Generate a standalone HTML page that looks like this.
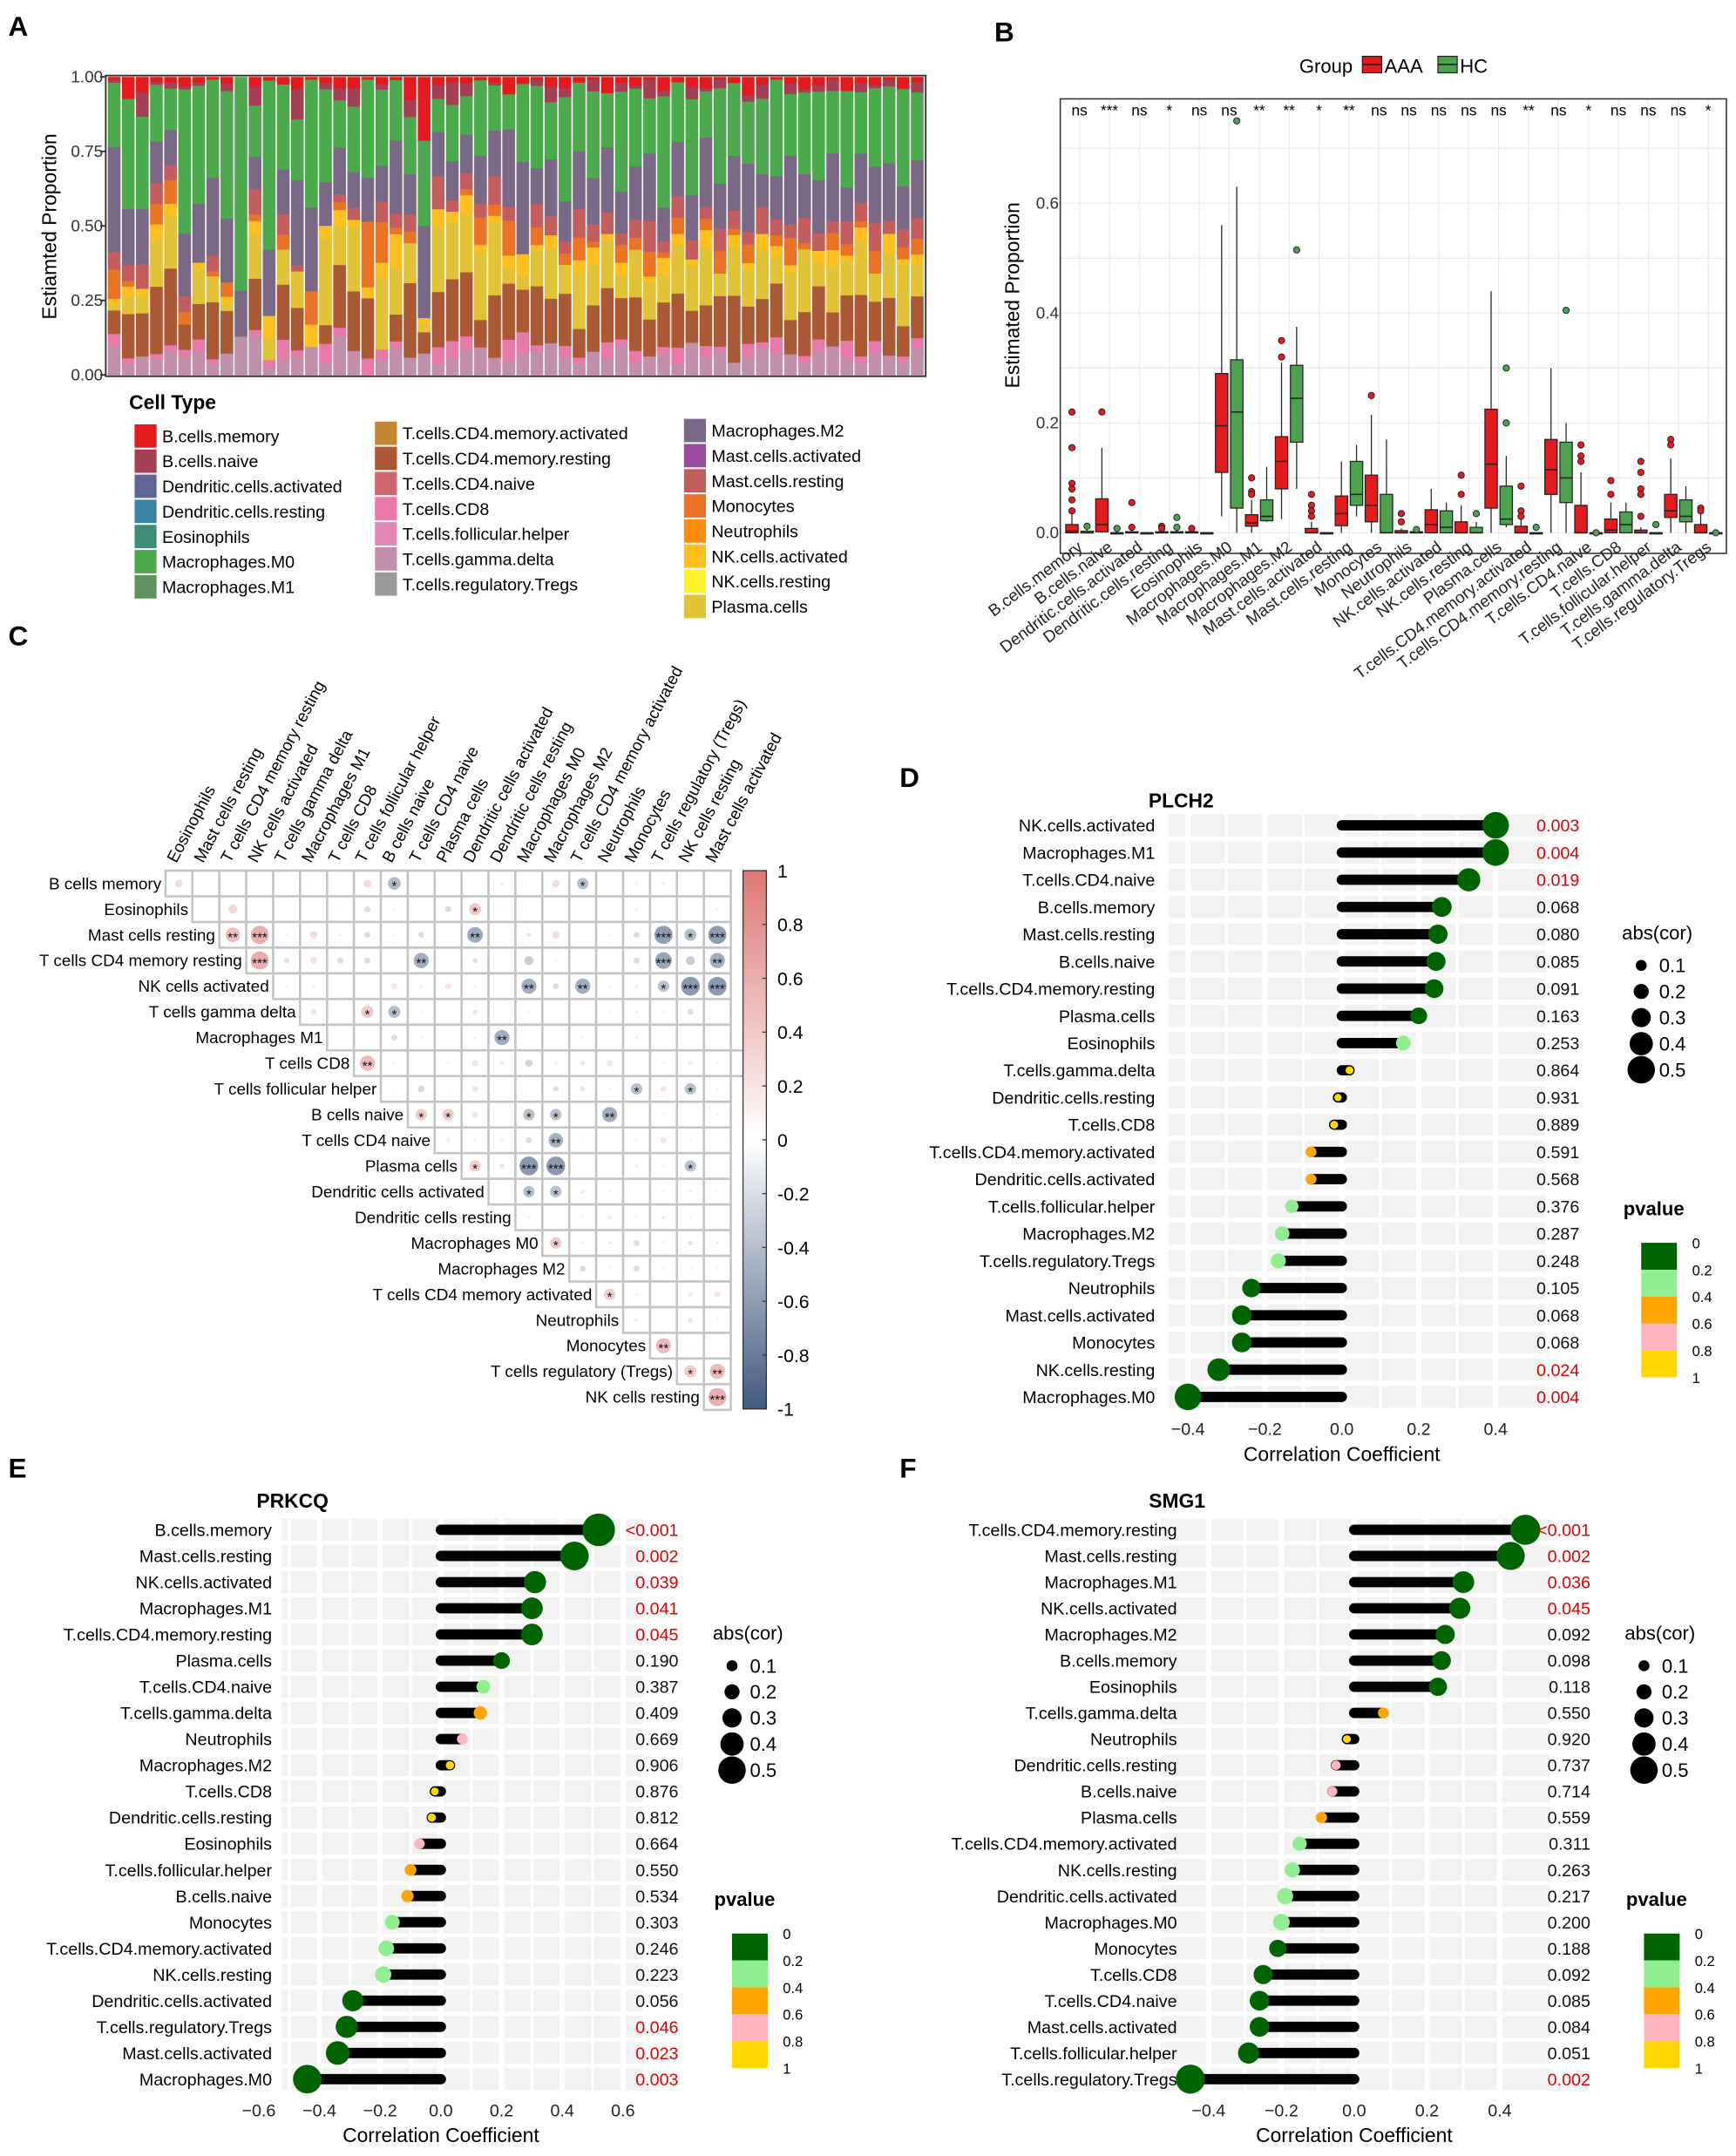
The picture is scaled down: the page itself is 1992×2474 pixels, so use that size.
<!DOCTYPE html>
<html><head><meta charset="utf-8"><style>
html,body{margin:0;padding:0;background:#fff;}
svg{display:block;font-family:"Liberation Sans",Arial,sans-serif;}
</style></head><body>
<svg id="fig" xmlns="http://www.w3.org/2000/svg" width="1992" height="2474" viewBox="0 0 1264 1570" preserveAspectRatio="none">
<rect x="0" y="0" width="1264" height="1570" fill="#fff"/>
<g font-weight="bold" font-size="20" fill="#000">
<text x="6" y="26">A</text>
<text x="724" y="30">B</text>
<text x="6" y="470">C</text>
<text x="655" y="573">D</text>
<text x="6" y="1076">E</text>
<text x="655" y="1076">F</text>
</g>
</svg>
<script>
// ===== Panel A data (percent-ish, normalized per bar) =====
const aBmem   =[1,8,5,2,2,3,2,1,2,0,3,1,3,4,1,2,3,4,1,3,1,8,18,3,2,2,1,2,5,2,1,3,4,2,1,6,2,3,1,5,2,3,4,1,2,6,3,1,2,4,3,1,5,2,3,1,4,2];
const aBnaive =[1,0,8,1,2,1,1,0,2,0,6,0,0,10,0,2,3,6,0,2,0,6,0,5,8,4,0,1,0,0,2,5,3,0,4,0,3,1,6,2,0,4,1,3,0,2,5,0,3,1,2,4,0,3,1,2,0,4];
const aM0     =[22,40,30,22,14,46,40,38,36,56,16,46,34,20,46,30,12,22,36,30,18,20,24,12,20,12,22,16,10,22,28,18,36,24,30,20,34,26,18,40,22,30,16,34,24,20,28,36,18,26,30,22,34,20,28,24,32,26];
const aM2     =[36,20,18,16,12,20,20,30,18,12,10,18,18,28,30,14,12,12,16,14,22,14,26,16,14,12,14,16,22,26,12,18,14,20,16,24,14,18,22,12,20,14,24,16,18,22,12,16,20,14,18,24,12,16,20,18,14,22];
const aMastRes=[6,6,8,8,5,5,0,6,0,0,8,0,8,2,0,0,2,4,0,8,4,6,0,12,4,5,4,10,4,0,8,6,4,10,6,8,4,6,10,4,8,6,4,8,6,4,10,6,4,8,6,4,8,6,10,4,6,8];
const aMono   =[10,2,0,8,8,4,0,2,4,0,2,0,6,0,12,0,2,0,24,16,2,4,0,0,0,2,8,4,10,0,6,0,4,8,2,0,6,4,8,2,6,0,4,8,2,6,0,4,8,2,0,6,4,2,8,0,4,6];
const aNKact  =[2,4,2,6,4,0,2,0,2,0,4,6,0,0,8,4,4,2,4,6,10,0,2,6,4,6,2,2,4,6,2,4,0,4,6,2,4,0,2,6,4,2,6,0,4,2,6,4,2,0,4,6,2,4,0,6,2,4];
const aPlasma =[2,6,6,18,18,0,12,10,2,0,14,6,14,12,0,28,10,22,0,28,14,14,2,24,20,18,20,26,4,4,12,16,10,20,14,18,8,16,12,10,18,14,20,8,16,12,18,10,14,20,8,16,12,18,10,14,20,12];
const aCD4res =[8,16,14,26,26,8,12,22,12,0,16,0,22,14,0,6,16,20,22,0,8,26,6,20,22,20,8,22,16,12,20,14,18,10,16,20,14,18,12,16,20,10,14,18,22,12,16,20,10,14,18,12,16,20,14,18,10,16];
const aCD8    =[4,2,0,2,2,2,4,2,0,0,2,2,8,2,0,6,2,0,6,4,2,0,0,6,6,4,0,0,6,6,2,0,4,2,0,6,2,4,0,2,6,0,4,2,0,4,2,6,0,2,4,0,6,2,4,0,2,4];
const aGD     =[10,4,6,6,8,6,8,4,6,10,12,2,6,6,10,4,10,8,0,6,8,6,6,4,6,8,8,6,4,6,8,10,6,4,8,6,10,4,6,8,4,10,6,8,4,6,10,8,6,4,8,10,6,4,8,6,4,10];
const aSeriesNames=['B.cells.memory','B.cells.naive','Macrophages.M0','Macrophages.M2','Mast.cells.resting','Monocytes','NK.cells.activated','Plasma.cells','T.cells.CD4.memory.resting','T.cells.CD8','T.cells.gamma.delta'];
const aSeriesData=[aBmem,aBnaive,aM0,aM2,aMastRes,aMono,aNKact,aPlasma,aCD4res,aCD8,aGD];
const aYTicks=['0.00','0.25','0.50','0.75','1.00'];
const legendNames=[['B.cells.memory','B.cells.naive','Dendritic.cells.activated','Dendritic.cells.resting','Eosinophils','Macrophages.M0','Macrophages.M1'],
['T.cells.CD4.memory.activated','T.cells.CD4.memory.resting','T.cells.CD4.naive','T.cells.CD8','T.cells.follicular.helper','T.cells.gamma.delta','T.cells.regulatory.Tregs'],
['Macrophages.M2','Mast.cells.activated','Mast.cells.resting','Monocytes','Neutrophils','NK.cells.activated','NK.cells.resting','Plasma.cells']];
const cellColor={'B.cells.memory':'#E41A1C','B.cells.naive':'#A53F56','Dendritic.cells.activated':'#5F6594','Dendritic.cells.resting':'#3A84A6','Eosinophils':'#3F8E78','Macrophages.M0':'#4BAA4C','Macrophages.M1':'#5F9161',
'T.cells.CD4.memory.activated':'#C28630','T.cells.CD4.memory.resting':'#AB5835','T.cells.CD4.naive':'#D0666E','T.cells.CD8':'#E979A9','T.cells.follicular.helper':'#E187B6','T.cells.gamma.delta':'#C18FAA','T.cells.regulatory.Tregs':'#999999',
'Macrophages.M2':'#7A6886','Mast.cells.activated':'#9C4A9E','Mast.cells.resting':'#C45D5D','Monocytes':'#EB7326','Neutrophils':'#FF8C0C','NK.cells.activated':'#FFC01F','NK.cells.resting':'#FFF22A','Plasma.cells':'#E2C237'};

// ===== Panel B data =====
const bCats=['B.cells.memory','B.cells.naive','Dendritic.cells.activated','Dendritic.cells.resting','Eosinophils','Macrophages.M0','Macrophages.M1','Macrophages.M2','Mast.cells.activated','Mast.cells.resting','Monocytes','Neutrophils','NK.cells.activated','NK.cells.resting','Plasma.cells','T.cells.CD4.memory.activated','T.cells.CD4.memory.resting','T.cells.CD4.naive','T.cells.CD8','T.cells.follicular.helper','T.cells.gamma.delta','T.cells.regulatory.Tregs'];
const bSig=['ns','***','ns','*','ns','ns','**','**','*','**','ns','ns','ns','ns','ns','**','ns','*','ns','ns','ns','*'];
// [lo,q1,med,q3,hi]
const bAAA=[[0,0,0.003,0.015,0.035],[0,0.002,0.015,0.062,0.155],[0,0,0,0.002,0.004],[0,0,0,0.002,0.004],[0,0,0,0.002,0.003],[0.03,0.11,0.195,0.29,0.56],[0,0.012,0.018,0.033,0.06],[0.025,0.08,0.13,0.175,0.31],[0,0,0,0.008,0.02],[0,0.013,0.035,0.067,0.13],[0,0.02,0.05,0.105,0.215],[0,0,0,0.004,0.008],[0,0,0.015,0.042,0.08],[0,0,0,0.02,0.05],[0,0.045,0.125,0.225,0.44],[0,0,0,0.012,0.03],[0,0.07,0.115,0.17,0.3],[0,0,0,0.05,0.11],[0,0,0.005,0.025,0.055],[0,0,0,0.005,0.01],[0,0.028,0.04,0.07,0.135],[0,0,0,0.015,0.035]];
const bHC=[[0,0,0,0.003,0.006],[0,0,0,0,0.002],[0,0,0,0,0],[0,0,0,0.002,0.004],[0,0,0,0,0],[0,0.045,0.22,0.315,0.63],[0.02,0.022,0.03,0.06,0.12],[0.08,0.165,0.245,0.305,0.375],[0,0,0,0,0],[0.03,0.05,0.07,0.13,0.16],[0,0,0,0.07,0.17],[0,0,0,0.002,0.004],[0,0,0.01,0.04,0.055],[0,0,0,0.01,0.02],[0.01,0.015,0.025,0.085,0.14],[0,0,0,0,0],[0,0.055,0.1,0.165,0.2],[0,0,0,0,0],[0,0,0.015,0.038,0.055],[0,0,0,0,0],[0,0.02,0.03,0.06,0.085],[0,0,0,0,0]];
const bAAAOut=[[0.22,0.155,0.09,0.08,0.06,0.04],[0.22],[0.055,0.01],[0.012,0.008],[0.008],[],[0.1,0.075,0.07],[0.35,0.32],[0.07,0.05,0.04,0.03],[],[0.25],[0.035,0.02],[],[0.105,0.07],[],[0.085,0.04,0.03],[],[0.16,0.14,0.13],[0.095,0.07],[0.13,0.11,0.08,0.07,0.03],[0.17,0.16],[0.045,0.04]];
const bHCOut=[[0.012],[0.008],[],[0.028,0.01],[],[0.75],[],[0.515],[],[],[],[0.006],[],[0.035],[0.3,0.2],[0.01],[0.405],[0],[],[0.015],[],[0]];
const bYTicks=[0,0.2,0.4,0.6];

// ===== Panel C data =====
const cRowVars=['B cells memory','Eosinophils','Mast cells resting','T cells CD4 memory resting','NK cells activated','T cells gamma delta','Macrophages M1','T cells CD8','T cells follicular helper','B cells naive','T cells CD4 naive','Plasma cells','Dendritic cells activated','Dendritic cells resting','Macrophages M0','Macrophages M2','T cells CD4 memory activated','Neutrophils','Monocytes','T cells regulatory (Tregs)','NK cells resting'];
const cColVars=['Eosinophils','Mast cells resting','T cells CD4 memory resting','NK cells activated','T cells gamma delta','Macrophages M1','T cells CD8','T cells follicular helper','B cells naive','T cells CD4 naive','Plasma cells','Dendritic cells activated','Dendritic cells resting','Macrophages M0','Macrophages M2','T cells CD4 memory activated','Neutrophils','Monocytes','T cells regulatory (Tregs)','NK cells resting','Mast cells activated'];
const cCor=[
[0.25,0.03,0.04,0.03,0.05,-0.08,-0.06,0.25,-0.42,0.03,-0.06,0.04,-0.1,0.0,0.25,-0.38,0.05,0.1,-0.1,0.04,0.08],
[0.04,0.3,0.02,0.03,0.05,-0.06,-0.2,-0.08,0.02,-0.2,0.4,-0.08,0.03,0.0,0.03,-0.03,0.1,0.05,0.03,-0.1],
[0.48,0.6,0.12,0.25,-0.1,-0.2,-0.08,-0.2,0.03,-0.52,0.04,-0.15,0.25,0.05,-0.08,-0.2,-0.6,-0.4,-0.6],
[0.6,-0.18,0.22,-0.2,-0.2,0.03,-0.5,0.02,-0.16,0.08,-0.3,0.1,0.06,0.03,-0.2,-0.55,-0.3,-0.5],
[-0.08,0.12,0.04,0.04,0.2,-0.1,0.2,-0.08,0.06,-0.5,-0.2,-0.5,0.1,-0.1,-0.38,-0.62,-0.62],
[0.2,0.03,0.4,-0.4,-0.08,0.05,-0.15,0.03,0.08,0.05,-0.06,0.1,-0.1,0.1,-0.2,0.08],
[0.03,-0.06,-0.2,0.1,0.03,-0.1,-0.5,0.08,0.04,0.1,-0.03,-0.1,0.05,0.05,-0.05],
[0.5,0.12,0.03,0.1,0.2,-0.12,-0.25,-0.1,-0.15,0.2,-0.06,0.1,0.15,0.1,-0.1],
[0.08,-0.22,0.08,0.2,0.03,0.05,-0.18,-0.15,0.1,-0.38,0.2,-0.38,0.1],
[0.38,0.38,0.2,0.06,-0.38,-0.38,0.03,-0.5,0.05,0.1,0.05,-0.1],
[0.15,0.1,0.12,-0.2,-0.48,0.08,0.05,0.1,0.2,0.1,0.05],
[0.38,-0.15,-0.62,-0.62,0.06,0.05,-0.1,0.1,-0.38,0.05],
[0.05,-0.38,-0.38,0.15,0.1,0.05,0.1,-0.1,0.1],
[0.12,0.05,0.1,0.15,0.1,-0.12,0.1,-0.05],
[0.38,0.1,-0.1,-0.2,0.1,-0.15,-0.1],
[-0.2,0.1,-0.2,0.1,-0.1,0.1],
[0.38,0.1,-0.05,0.15,0.2],
[-0.1,0.05,-0.15,0.1],
[0.5,0.1,-0.05],
[0.4,0.5],
[0.6]];
const cBarTicks=['1','0.8','0.6','0.4','0.2','0','-0.2','-0.4','-0.6','-0.8','-1'];

// ===== Panel D/E/F data =====
const dNames=['NK.cells.activated','Macrophages.M1','T.cells.CD4.naive','B.cells.memory','Mast.cells.resting','B.cells.naive','T.cells.CD4.memory.resting','Plasma.cells','Eosinophils','T.cells.gamma.delta','Dendritic.cells.resting','T.cells.CD8','T.cells.CD4.memory.activated','Dendritic.cells.activated','T.cells.follicular.helper','Macrophages.M2','T.cells.regulatory.Tregs','Neutrophils','Mast.cells.activated','Monocytes','NK.cells.resting','Macrophages.M0'];
const dCor=[0.40,0.40,0.33,0.26,0.25,0.245,0.24,0.20,0.16,0.02,-0.01,-0.02,-0.08,-0.08,-0.13,-0.155,-0.165,-0.235,-0.26,-0.26,-0.32,-0.40];
const dP=['0.003','0.004','0.019','0.068','0.080','0.085','0.091','0.163','0.253','0.864','0.931','0.889','0.591','0.568','0.376','0.287','0.248','0.105','0.068','0.068','0.024','0.004'];
const eNames=['B.cells.memory','Mast.cells.resting','NK.cells.activated','Macrophages.M1','T.cells.CD4.memory.resting','Plasma.cells','T.cells.CD4.naive','T.cells.gamma.delta','Neutrophils','Macrophages.M2','T.cells.CD8','Dendritic.cells.resting','Eosinophils','T.cells.follicular.helper','B.cells.naive','Monocytes','T.cells.CD4.memory.activated','NK.cells.resting','Dendritic.cells.activated','T.cells.regulatory.Tregs','Mast.cells.activated','Macrophages.M0'];
const eCor=[0.52,0.44,0.31,0.30,0.30,0.20,0.14,0.13,0.07,0.03,-0.02,-0.03,-0.07,-0.10,-0.11,-0.16,-0.18,-0.19,-0.29,-0.31,-0.34,-0.44];
const eP=['<0.001','0.002','0.039','0.041','0.045','0.190','0.387','0.409','0.669','0.906','0.876','0.812','0.664','0.550','0.534','0.303','0.246','0.223','0.056','0.046','0.023','0.003'];
const fNames=['T.cells.CD4.memory.resting','Mast.cells.resting','Macrophages.M1','NK.cells.activated','Macrophages.M2','B.cells.memory','Eosinophils','T.cells.gamma.delta','Neutrophils','Dendritic.cells.resting','B.cells.naive','Plasma.cells','T.cells.CD4.memory.activated','NK.cells.resting','Dendritic.cells.activated','Macrophages.M0','Monocytes','T.cells.CD8','T.cells.CD4.naive','Mast.cells.activated','T.cells.follicular.helper','T.cells.regulatory.Tregs'];
const fCor=[0.47,0.43,0.30,0.29,0.25,0.24,0.23,0.08,-0.02,-0.05,-0.06,-0.09,-0.15,-0.17,-0.19,-0.20,-0.21,-0.25,-0.26,-0.26,-0.29,-0.45];
const fP=['<0.001','0.002','0.036','0.045','0.092','0.098','0.118','0.550','0.920','0.737','0.714','0.559','0.311','0.263','0.217','0.200','0.188','0.092','0.085','0.084','0.051','0.002'];
const absLegend=[0.1,0.2,0.3,0.4,0.5];
const pLegend=['0','0.2','0.4','0.6','0.8','1'];

const NS='http://www.w3.org/2000/svg';
const svg=document.getElementById('fig');
function mk(tag,a,p){const e=document.createElementNS(NS,tag);for(const k in a)e.setAttribute(k,a[k]);(p||svg).appendChild(e);return e;}
function tx(x,y,s,a,p){const e=mk('text',Object.assign({x:x,y:y},a||{}),p);e.textContent=s;return e;}

// ================= PANEL A =================
(function(){
  const g=mk('g',{});
  
  
  const X0=78,X1=673,Y0=273,Y1=56;
  const yA=v=>Y0-(Y0-Y1)*v;
  const n=aBmem.length, bw=(X1-X0)/n;
  for(let i=0;i<n;i++){
    let tot=0; aSeriesData.forEach(s=>tot+=s[i]);
    let cum=0;
    aSeriesData.forEach((s,k)=>{
      const v=s[i]/tot; if(v<=0) return;
      const r=mk('rect',{x:X0+i*bw+0.5,y:yA(1-cum),width:bw-1,height:yA(1-cum-v)-yA(1-cum)+0.3,fill:cellColor[aSeriesNames[k]]},g);
      
      
      cum+=v;
    });
  }
  const fr=mk('rect',{x:X0-1,y:Y1-1,width:X1-X0+2,height:Y0-Y1+2,fill:'none',stroke:'#333','stroke-width':1.2},g);
  
  
  aYTicks.forEach((t,i)=>{
    const y=yA(i/4);
    const l=mk('line',{x1:X0-5,x2:X0-1,y1:y,y2:y,stroke:'#333','stroke-width':1.2},g);
    
    
    const tt=tx(X0-3,y+4,t,{'text-anchor':'end','font-size':12,fill:'#333'},g);
    
    
  });
  const yt=tx(0,0,'Estiamted Proportion',{'font-size':14.5,'text-anchor':'middle',transform:'translate(41,165) rotate(-90)'},g);
  
  
  const lt=tx(94,298,'Cell Type',{'font-size':14.5,'font-weight':'bold'},g);
  
  
  const colX=[98,273,498], colY=[309,307,305];
  legendNames.forEach((col,c)=>col.forEach((nm,j)=>{
    const y=colY[c]+j*18.3;
    const r=mk('rect',{x:colX[c],y:y,width:16,height:17,fill:cellColor[nm]},g);
    
    
    const t=tx(colX[c]+20,y+13,nm,{'font-size':12.5},g);
    
    
  }));
})();

// ================= PANEL B =================
(function(){
  const g=mk('g',{});
  
  
  const X0=772,X1=1257,Y0=403,Y1=72;
  const yB=v=>388-400*v;
  const xB=i=>786+i*21.8;
  for(let k=0;k<=7;k++){const y=yB(k*0.1);const l=mk('line',{x1:X0,x2:X1,y1:y,y2:y,stroke:'#ebebeb','stroke-width':0.8},g);
    
    }
  bCats.forEach((c,i)=>{const l=mk('line',{x1:xB(i),x2:xB(i),y1:Y1,y2:Y0,stroke:'#ebebeb','stroke-width':0.8},g);
    
    });
  const fr=mk('rect',{x:X0,y:Y1,width:X1-X0,height:Y0-Y1,fill:'none',stroke:'#333','stroke-width':1},g);
  
  
  function box(cx,s,col,outs,grp){
    const w=9;
    const wl=mk('line',{x1:cx,x2:cx,y1:yB(s[0]),y2:yB(s[4]),stroke:'#222','stroke-width':0.8},g);
    
    
    const r=mk('rect',{x:cx-w/2,y:yB(s[3]),width:w,height:Math.max(0.8,yB(s[1])-yB(s[3])),fill:col,stroke:'#222','stroke-width':0.8},g);
    
    
    const m=mk('line',{x1:cx-w/2,x2:cx+w/2,y1:yB(s[2]),y2:yB(s[2]),stroke:'#222','stroke-width':1},g);
    
    
    outs.forEach(v=>{const o=mk('circle',{cx:cx,cy:yB(v),r:2.3,fill:col,stroke:'#222','stroke-width':0.6},g);
      
      });
  }
  bCats.forEach((c,i)=>{
    box(xB(i)-5.5,bAAA[i],'#E41A1C',bAAAOut[i],'aaa');
    box(xB(i)+5.5,bHC[i],'#4DA24D',bHCOut[i],'hc');
    const s=tx(xB(i),84,bSig[i],{'text-anchor':'middle','font-size':11},g);
    
    
    const xl=tx(0,0,c,{'text-anchor':'end','font-size':12,fill:'#222',transform:'translate('+(xB(i)+3)+',400) rotate(-37)'},g);
    
    
  });
  bYTicks.forEach(v=>{const t=tx(X0-1,yB(v)+4,v.toFixed(1),{'text-anchor':'end','font-size':12,fill:'#333'},g);
    
    });
  const yt=tx(0,0,'Estimated Proportion',{'font-size':14.5,'text-anchor':'middle',transform:'translate(742,215) rotate(-90)'},g);
  
  
  const lg=tx(946,53,'Group',{'font-size':14},g);
  
  
  [['AAA','#E41A1C',992],['HC','#4DA24D',1047]].forEach(([nm,col,x])=>{
    const r=mk('rect',{x:x,y:41,width:14,height:12,fill:col,stroke:'#222','stroke-width':0.8},g);
    
    
    const l=mk('line',{x1:x,x2:x+14,y1:47,y2:47,stroke:'#222','stroke-width':1},g);
    
    
    const t=tx(x+16,53,nm,{'font-size':14},g);
    
    
  });
})();

// ================= PANEL C =================
(function(){
  const g=mk('g',{});
  
  
  const cw=19.6, ch=18.7, X0=120.5, Y0=634;
  function colr(v){
    const a=Math.min(1,Math.abs(v));
    let c;
    if(v>=0) c=[255-(255-214)*a,255-(255-96)*a,255-(255-92)*a];
    else c=[255-(255-33)*a,255-(255-62)*a,255-(255-107)*a];
    return 'rgb('+c.map(x=>Math.round(x)).join(',')+')';
  }
  cCor.forEach((row,i)=>{
    row.forEach((v,k)=>{
      const j=i+k;
      const x=X0+j*cw, y=Y0+i*ch;
      const r=mk('rect',{x:x,y:y,width:cw,height:ch,fill:'#fff',stroke:'#c4c4c4','stroke-width':1.6},g);
      
      
      const c=mk('circle',{cx:x+cw/2,cy:y+ch/2,r:Math.max(0.8,Math.abs(v)*11),fill:colr(v*0.85)},g);
      
      
      const av=Math.abs(v);
      const st=av>=0.55?'***':av>=0.45?'**':av>=0.35?'*':'';
      if(st){const t=tx(x+cw/2,y+ch/2+5,st,{'text-anchor':'middle','font-size':9.5,fill:'#111'},g);
        
        }
    });
    const t=tx(X0+i*cw-3,Y0+i*ch+13.5,cRowVars[i],{'text-anchor':'end','font-size':12},g);
    
    
  });
  cColVars.forEach((nm,j)=>{
    const t=tx(0,0,nm,{'font-size':12,transform:'translate('+(X0+j*cw+cw/2-2)+','+(Y0-5)+') rotate(-62)'},g);
    
    
  });
  const defs=mk('defs',{},g);
  const lg=mk('linearGradient',{id:'cbar',x1:0,y1:0,x2:0,y2:1},defs);
  [[0,colr(0.85)],[0.5,'#ffffff'],[1,colr(-0.85)]].forEach(([o,c])=>mk('stop',{offset:o,'stop-color':c},lg));
  const cb=mk('rect',{x:541,y:634,width:17,height:392,fill:'url(#cbar)',stroke:'#333','stroke-width':0.8},g);
  
  
  cBarTicks.forEach((t,i)=>{
    const y=634+i*39.2;
    const l=mk('line',{x1:555,x2:558,y1:y,y2:y,stroke:'#333','stroke-width':0.8},g);
    
    
    const tt=tx(566,y+5,t,{'font-size':13.5},g);
    
    
  });
})();

// ================= PANELS D/E/F =================
function pcol(p){const v=p.startsWith('<')?0:parseFloat(p);
  return v<0.2?'#006400':v<0.4?'#90EE90':v<0.6?'#FFA500':v<0.8?'#FFB6C1':'#FFD700';}
function lolli(name,title,names,cors,ps,L){
  const g=mk('g',{});
  
  
  const xs=v=>L.x0+L.sc*v;
  const ys=i=>L.y0+i*L.dy;
  if(L.clip){const cp=mk('clipPath',{id:name+'-clip'},g);mk('rect',{x:L.clip,y:0,width:1264,height:1570},cp);}
  names.forEach((nm,i)=>{
    const r=mk('rect',{x:L.bgL,y:ys(i)-8,width:L.bgR-L.bgL,height:16,fill:'#f2f2f2'},g);
    
    
  });
  L.ticks.forEach(v=>{const x=xs(v);const l=mk('line',{x1:x,x2:x,y1:ys(0)-10,y2:ys(names.length-1)+10,stroke:'#fff','stroke-width':4},g);
    
    });
  L.ticks.slice(0,-1).forEach(v=>{const x=xs(v+0.1);const l=mk('line',{x1:x,x2:x,y1:ys(0)-10,y2:ys(names.length-1)+10,stroke:'#fff','stroke-width':2},g);
    
    });
  names.forEach((nm,i)=>{
    const y=ys(i);
    const t=tx(L.lx,y+4.5,nm,{'text-anchor':'end','font-size':12.5},g);
    if(L.clip) t.setAttribute('clip-path','url(#'+name+'-clip)');
    
    
    const ln=mk('line',{x1:xs(0),x2:xs(cors[i]),y1:y,y2:y,stroke:'#000','stroke-width':7.5,'stroke-linecap':'round'},g);
    
    
    const d=mk('circle',{cx:xs(cors[i]),cy:y,r:2.5+18*Math.abs(cors[i]),fill:pcol(ps[i])},g);
    
    
    const v=ps[i].startsWith('<')?0:parseFloat(ps[i]);
    const pt=tx(L.px,y+4.5,ps[i],{'text-anchor':'end','font-size':12.5,fill:v<0.05?'#E00000':'#111'},g);
    
    
  });
  L.ticks.forEach(v=>{const t=tx(xs(v),L.tickY,(v<0?'\u2212':'')+Math.abs(v).toFixed(1),{'text-anchor':'middle','font-size':12.5,fill:'#222'},g);
    
    });
  const xt=tx(xs(0),L.tickY+19,'Correlation Coefficient',{'text-anchor':'middle','font-size':14.5},g);
  
  
  const tt=tx(L.tx,L.ty,title,{'text-anchor':'middle','font-size':14.5,'font-weight':'bold'},g);
  
  
  const at=tx(L.lgx-14,L.lgy,'abs(cor)',{'font-size':14},g);
  
  
  absLegend.forEach((v,k)=>{
    const y=L.lgy+23+k*19;
    const c=mk('circle',{cx:L.lgx,cy:y-4,r:2.5+15*v,fill:'#000'},g);
    
    
    const t=tx(L.lgx+13,y+1,v.toFixed(1),{'font-size':14},g);
    
    
  });
  const pt=tx(L.lgx-13,L.pgy,'pvalue',{'font-size':14,'font-weight':'bold'},g);
  
  
  ['#006400','#90EE90','#FFA500','#FFB6C1','#FFD700'].forEach((c,k)=>{
    const r=mk('rect',{x:L.lgx,y:L.pgy+20+k*19.6,width:26,height:19.6,fill:c},g);
    
    
  });
  pLegend.forEach((s,k)=>{const t=tx(L.lgx+37,L.pgy+24+k*19.6,s,{'font-size':10.5},g);
    
    });
}
lolli('panel-d-lollipop','PLCH2',dNames,dCor,dP,{x0:977,sc:280,y0:601,dy:19.82,lx:841,px:1150,bgL:851,bgR:1125,ticks:[-0.4,-0.2,0,0.2,0.4],tickY:1045,tx:860,ty:588,lgx:1195,lgy:684,pgy:885});
lolli('panel-e-lollipop','PRKCQ',eNames,eCor,eP,{x0:321,sc:221,y0:1114,dy:19.05,lx:198,px:494,bgL:205,bgR:468,ticks:[-0.6,-0.4,-0.2,0,0.2,0.4,0.6],tickY:1541,tx:213,ty:1098,lgx:533,lgy:1194,pgy:1388});
lolli('panel-f-lollipop','SMG1',fNames,fCor,fP,{x0:986,sc:265,y0:1114,dy:19.05,lx:857,px:1158,bgL:845,bgR:1129,ticks:[-0.4,-0.2,0,0.2,0.4],tickY:1541,tx:857,ty:1098,lgx:1197,lgy:1194,pgy:1388,clip:688});
</script>
</body></html>
